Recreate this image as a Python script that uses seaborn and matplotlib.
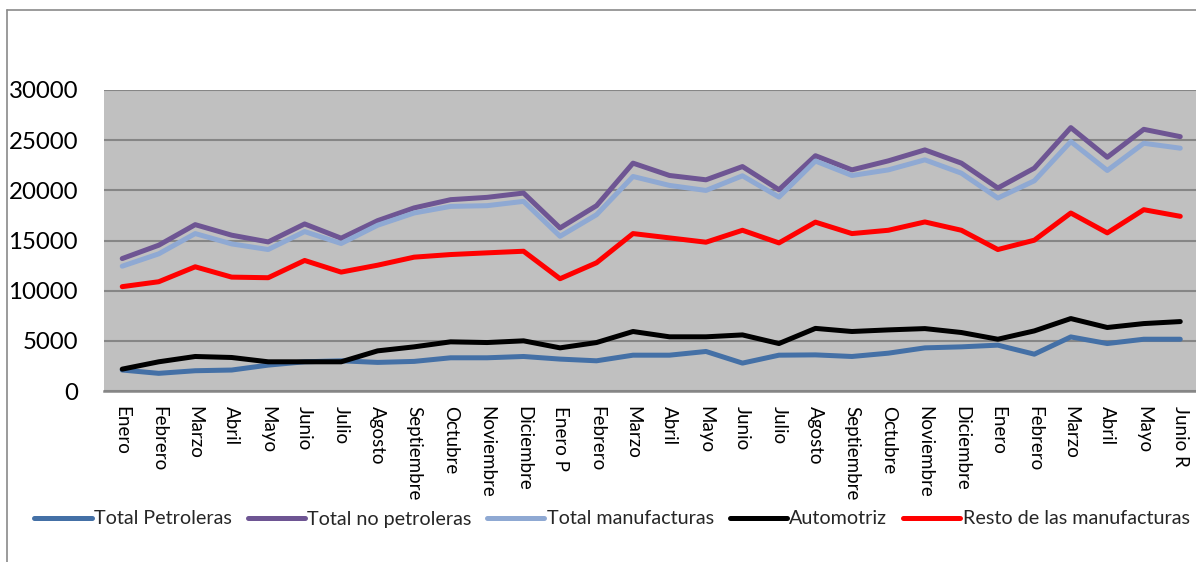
import matplotlib
matplotlib.use("Agg")
import matplotlib.pyplot as plt
from matplotlib.lines import Line2D
import numpy as np
import pandas as pd
import seaborn as sns

# Monthly periods on the horizontal axis
meses = ["Enero", "Febrero", "Marzo", "Abril", "Mayo", "Junio", "Julio", "Agosto",
         "Septiembre", "Octubre", "Noviembre", "Diciembre",
         "Enero P", "Febrero", "Marzo", "Abril", "Mayo", "Junio", "Julio", "Agosto",
         "Septiembre", "Octubre", "Noviembre", "Diciembre",
         "Enero", "Febrero", "Marzo", "Abril", "Mayo", "Junio R"]

total_petroleras = [2090, 1760, 2020, 2090, 2580, 2910, 3010, 2850, 2950, 3310, 3310, 3440,
                    3180, 3010, 3570, 3570, 3940, 2780, 3570, 3600, 3440, 3770, 4300, 4400,
                    4570, 3670, 5390, 4730, 5160, 5160]
total_no_petroleras = [13200, 14530, 16580, 15530, 14860, 16650, 15230, 16980, 18250, 19070,
                       19300, 19730, 16250, 18470, 22710, 21480, 21050, 22370, 20060, 23450,
                       22040, 22940, 24030, 22710, 20230, 22210, 26250, 23300, 26080, 25350]
total_manufacturas = [12440, 13670, 15690, 14660, 14100, 15890, 14700, 16520, 17740, 18400,
                      18470, 18900, 15420, 17570, 21380, 20490, 19990, 21450, 19330, 22920,
                      21480, 22040, 23040, 21710, 19230, 20950, 24860, 21980, 24690, 24200]
automotriz = [2180, 2910, 3440, 3340, 2910, 2910, 2910, 4000, 4400, 4900, 4830, 5000,
              4300, 4830, 5930, 5400, 5400, 5590, 4730, 6240, 5930, 6090, 6220, 5830,
              5160, 5990, 7220, 6330, 6720, 6920]
resto_manufacturas = [10400, 10890, 12380, 11350, 11290, 13010, 11850, 12540, 13340, 13600,
                      13770, 13930, 11190, 12780, 15690, 15260, 14830, 16020, 14760, 16830,
                      15690, 16020, 16850, 16020, 14100, 15030, 17740, 15760, 18070, 17410]

series = {
    "Total Petroleras": total_petroleras,
    "Total no petroleras": total_no_petroleras,
    "Total manufacturas": total_manufacturas,
    "Automotriz": automotriz,
    "Resto de las manufacturas": resto_manufacturas,
}
colores = {
    "Total Petroleras": "#4470A6",
    "Total no petroleras": "#6E5593",
    "Total manufacturas": "#8FA9D3",
    "Automotriz": "#000000",
    "Resto de las manufacturas": "#FF0000",
}
y_ticks = [0, 5000, 10000, 15000, 20000, 25000, 30000]

df = pd.concat(
    [pd.DataFrame({"periodo": np.arange(len(meses)), "serie": nombre, "valor": vals})
     for nombre, vals in series.items()],
    ignore_index=True,
)

sns.set_theme(style="white")
plt.rcParams["font.family"] = ["Lato", "DejaVu Sans"]

W, H = 1196, 562
PX = 72 / 100  # points per pixel at 100 dpi
fig = plt.figure(figsize=(W / 100, H / 100), dpi=100)
ax = fig.add_axes([104 / W, 1 - 391 / H, (1198.5 - 104) / W, 301 / H])
ax.set_facecolor("#C0C0C0")

sns.lineplot(data=df, x="periodo", y="valor", hue="serie", hue_order=list(series.keys()),
             palette=colores, linewidth=3.6, sort=False, ax=ax)

ax.set_xlim(-0.5, len(meses) - 0.5)
ax.set_ylim(0, 30000)
ax.set_yticks(y_ticks)
ax.set_yticklabels([str(v) for v in y_ticks], fontsize=17.3, color="black")
ax.set_xticks(np.arange(len(meses)))
ax.set_xticklabels(meses, rotation=-90, fontsize=13.5, color="black", va="top", ha="center")
ax.tick_params(axis="y", length=0, pad=26 * PX)
ax.tick_params(axis="x", length=0, pad=15 * PX)
ax.set_xlabel("")
ax.set_ylabel("")

ax.yaxis.grid(True, color="#868686", linewidth=1.5)
ax.xaxis.grid(False)
ax.set_axisbelow(True)
for side in ["left", "right", "top"]:
    ax.spines[side].set_visible(False)
ax.spines["bottom"].set_color("#868686")
ax.spines["bottom"].set_linewidth(1.8)

handles, labels = ax.get_legend_handles_labels()
ax.get_legend().remove()
for h in handles:
    h.set_linewidth(3.6)
    h.set_solid_capstyle("round")
fig.legend(handles, labels, loc="center", bbox_to_anchor=(612 / W, 1 - 519 / H),
           ncol=5, frameon=False, fontsize=14.2, handlelength=2.9, handletextpad=0.12,
           columnspacing=0.8, borderaxespad=0, borderpad=0)

# Outer chart border (left and top edges)
border = dict(color="#8A8A8A", linewidth=1.2, transform=fig.transFigure)
fig.add_artist(Line2D([7 / W, 7 / W], [0, 1 - 10 / H], **border))
fig.add_artist(Line2D([7 / W, 1], [1 - 10 / H, 1 - 10 / H], **border))

fig.savefig("out.png", dpi=100)
